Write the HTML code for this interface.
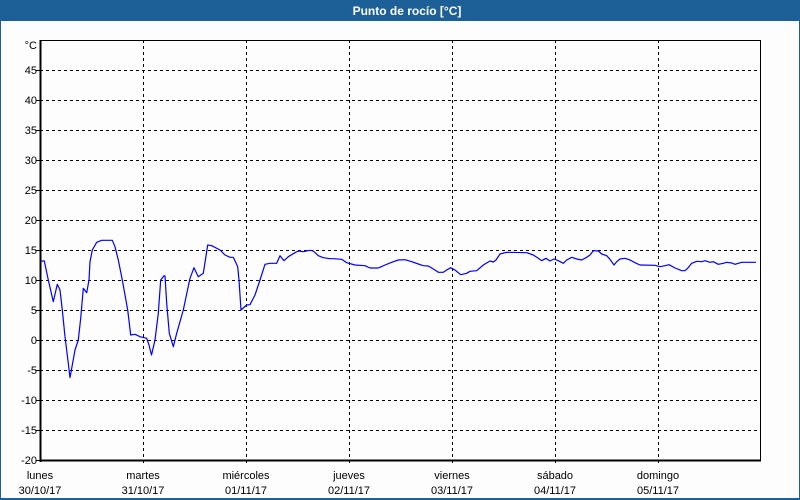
<!DOCTYPE html>
<html><head><meta charset="utf-8"><style>
html,body{margin:0;padding:0;background:#fff;}
svg{display:block;}
</style></head><body>
<svg width="800" height="500" viewBox="0 0 800 500" xmlns="http://www.w3.org/2000/svg" font-family="'Liberation Sans', sans-serif">
<rect x="0" y="0" width="800" height="500" fill="#1d5f97"/>
<rect x="1" y="21" width="798" height="477" fill="#fcfdfc"/>
<text x="407" y="15" fill="#ffffff" font-size="12" font-weight="bold" text-anchor="middle">Punto de rocío [°C]</text>
<g stroke="#000" stroke-width="1" stroke-dasharray="3,3" shape-rendering="crispEdges">
<line x1="40" y1="70.5" x2="760" y2="70.5"/>
<line x1="40" y1="100.5" x2="760" y2="100.5"/>
<line x1="40" y1="130.5" x2="760" y2="130.5"/>
<line x1="40" y1="160.5" x2="760" y2="160.5"/>
<line x1="40" y1="190.5" x2="760" y2="190.5"/>
<line x1="40" y1="220.5" x2="760" y2="220.5"/>
<line x1="40" y1="250.5" x2="760" y2="250.5"/>
<line x1="40" y1="280.5" x2="760" y2="280.5"/>
<line x1="40" y1="310.5" x2="760" y2="310.5"/>
<line x1="40" y1="340.5" x2="760" y2="340.5"/>
<line x1="40" y1="370.5" x2="760" y2="370.5"/>
<line x1="40" y1="400.5" x2="760" y2="400.5"/>
<line x1="40" y1="430.5" x2="760" y2="430.5"/>
<line x1="143.5" y1="40" x2="143.5" y2="466"/>
<line x1="246.5" y1="40" x2="246.5" y2="466"/>
<line x1="349.5" y1="40" x2="349.5" y2="466"/>
<line x1="452.5" y1="40" x2="452.5" y2="466"/>
<line x1="555.5" y1="40" x2="555.5" y2="466"/>
<line x1="658.5" y1="40" x2="658.5" y2="466"/>
</g>
<g stroke="#000" shape-rendering="crispEdges">
<line x1="40" y1="40.5" x2="761" y2="40.5" stroke-width="1"/>
<line x1="760.5" y1="40" x2="760.5" y2="461" stroke-width="1"/>
<line x1="40.5" y1="40" x2="40.5" y2="462" stroke-width="2"/>
<line x1="40" y1="460.5" x2="761" y2="460.5" stroke-width="2"/>
<line x1="36" y1="70.5" x2="40" y2="70.5"/>
<line x1="36" y1="100.5" x2="40" y2="100.5"/>
<line x1="36" y1="130.5" x2="40" y2="130.5"/>
<line x1="36" y1="160.5" x2="40" y2="160.5"/>
<line x1="36" y1="190.5" x2="40" y2="190.5"/>
<line x1="36" y1="220.5" x2="40" y2="220.5"/>
<line x1="36" y1="250.5" x2="40" y2="250.5"/>
<line x1="36" y1="280.5" x2="40" y2="280.5"/>
<line x1="36" y1="310.5" x2="40" y2="310.5"/>
<line x1="36" y1="340.5" x2="40" y2="340.5"/>
<line x1="36" y1="370.5" x2="40" y2="370.5"/>
<line x1="36" y1="400.5" x2="40" y2="400.5"/>
<line x1="36" y1="430.5" x2="40" y2="430.5"/>
<line x1="36" y1="460.5" x2="40" y2="460.5"/>
</g>
<g font-size="11" fill="#000" text-anchor="end">
<text x="37" y="49">°C</text>
<text x="37" y="74">45</text>
<text x="37" y="104">40</text>
<text x="37" y="134">35</text>
<text x="37" y="164">30</text>
<text x="37" y="194">25</text>
<text x="37" y="224">20</text>
<text x="37" y="254">15</text>
<text x="37" y="284">10</text>
<text x="37" y="314">5</text>
<text x="37" y="344">0</text>
<text x="37" y="374">-5</text>
<text x="37" y="404">-10</text>
<text x="37" y="434">-15</text>
<text x="37" y="464">-20</text>
</g>
<g font-size="11" fill="#000" text-anchor="middle">
<text x="40" y="479">lunes</text><text x="40" y="494">30/10/17</text>
<text x="143" y="479">martes</text><text x="143" y="494">31/10/17</text>
<text x="246" y="479">miércoles</text><text x="246" y="494">01/11/17</text>
<text x="349" y="479">jueves</text><text x="349" y="494">02/11/17</text>
<text x="452" y="479">viernes</text><text x="452" y="494">03/11/17</text>
<text x="555" y="479">sábado</text><text x="555" y="494">04/11/17</text>
<text x="658" y="479">domingo</text><text x="658" y="494">05/11/17</text>
</g>
<polyline fill="none" stroke="#0000ff" stroke-width="1.2" stroke-linejoin="round" points="
41,261 44.3,261 48.3,280 53.3,301.7 57.3,284.3 60,290 62.3,310 65,336.7 68.3,363.3 70,377.7 72.3,365 75,350 78.3,340 80.7,318.3 83.3,288.3 86.7,292.7 89,280 90,261.7 92.3,250 96.7,242.3 101.7,240.3 112.3,240.3 115,246.7 118.3,260 122.3,280 125,295 127.7,310 130.7,335 135,334.3 140,336.7 146.7,338.3 149,345 151.5,355 155,340 158.3,313.3 160.7,280 164,275.7 165,276 166.7,303.3 169.3,333.3 173.3,346.7 176.7,333.3 183.3,310 190,278.3 194,267.7 198.3,276.7 203.3,273.3 207.7,245 211.7,245.7 220,250 225,255 230,257.3 233.3,257.3 237.7,266.7 239,280 241,310 246.7,305 250,304.7 255,295 260,280 265,264.3 270,263.3 276.7,263.3 280,255.7 284,260.7 288.3,256.7 295,252.7 298.3,251 303.3,251.7 310,250.3 313.3,251 318.3,255.7 323.3,257.7 330,258.7 333.3,258.7 341.7,259.3 346.7,262.7 355,265 365,265.7 370,268 378.3,268 385,265 391.7,262.3 398.3,260 405,259.7 411.7,261.7 418.3,264 423.3,265.7 428.3,266 435,270 438.3,272.3 443.3,272.3 446.7,270 450.7,267.7 455,270 460.7,274.7 466.7,273.3 470,271.3 476.7,270.7 483.3,265 490,261 493.3,262 496,260 500,254 506.7,252.3 526.7,252.7 533.3,255 538.3,258.3 541.7,260.7 546,258.3 550,261 554,259 558.3,260.7 563.3,263.3 566.7,260 571.7,257.3 576.7,259 581.7,260 586.7,257.3 590,255 593.3,250.7 598.3,251 601.7,254 606.7,255.7 610,259.3 614,265 616.7,261.7 620,259 625,258.3 630,260 635,262.7 640,265 655,265.3 660,266.7 665,265.7 669,264.7 675,268 681.7,270.7 685,270.7 687.7,268.3 691.7,263.3 696.7,261.3 701.7,261.7 705,260.7 710,262.3 713.3,261.7 718.3,264.3 723.3,263.3 726.7,262.3 731.7,263 735,264.3 741.7,262.3 756,262.3"/>
</svg>
</body></html>
